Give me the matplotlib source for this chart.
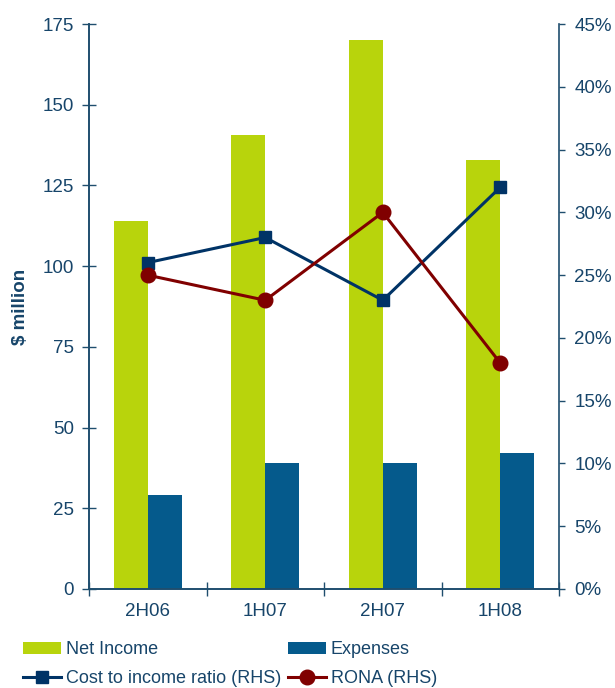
import numpy as np
import matplotlib.pyplot as plt
from matplotlib.ticker import FuncFormatter, FixedLocator

plt.rcParams['font.family'] = ['Liberation Sans', 'DejaVu Sans']

periods = ['2H06', '1H07', '2H07', '1H08']
net_income = [114, 140.5, 170, 133]
expenses = [29, 39, 39, 42]
cost_income = [26, 28, 23, 32]   # % (RHS)
rona = [25, 23, 30, 18]          # % (RHS)

green = '#B8D40C'
blue = '#055A8C'
navy = '#003366'
maroon = '#800000'
txt = '#17456A'
axc = '#1F4E6E'

fig = plt.figure(figsize=(6.15, 6.88), dpi=100)
ax = fig.add_axes([0.1447, 0.1439, 0.7643, 0.8211])
ax2 = ax.twinx()

x = np.arange(len(periods))
w = 0.29
b1 = ax.bar(x - w/2, net_income, w, color=green, label='Net Income', zorder=2)
b2 = ax.bar(x + w/2, expenses, w, color=blue, label='Expenses', zorder=2)

l1, = ax2.plot(x, cost_income, color=navy, lw=2.2, marker='s', ms=8.5,
               label='Cost to income ratio (RHS)')
l2, = ax2.plot(x, rona, color=maroon, lw=2.2, marker='o', ms=10.5,
               label='RONA (RHS)')

ax.set_xlim(-0.5, 3.5)
ax.set_ylim(0, 175)
ax.set_yticks(np.arange(0, 176, 25))
ax2.set_ylim(0, 45)
ax2.set_yticks(np.arange(0, 46, 5))
ax2.yaxis.set_major_formatter(FuncFormatter(lambda v, p: f'{v:.0f}%'))

ax.set_xticks(x)
ax.set_xticklabels(periods)
ax.xaxis.set_minor_locator(FixedLocator(np.arange(-0.5, 3.6, 1)))
ax.tick_params(axis='x', which='major', length=0, pad=10, labelsize=13.5, labelcolor=txt)
ax.tick_params(axis='x', which='minor', direction='inout', length=9.4, width=1, color=axc)
ax.tick_params(axis='y', direction='inout', length=9.4, width=1, color=axc,
               pad=6, labelsize=13.5, labelcolor=txt)
ax2.tick_params(axis='y', direction='out', length=4, width=1, color=axc,
                pad=7, labelsize=13.5, labelcolor=txt)

for a in (ax, ax2):
    a.spines['top'].set_visible(False)
    for s in ('left', 'right', 'bottom'):
        a.spines[s].set_color(axc)
        a.spines[s].set_linewidth(1.2)
ax.spines['right'].set_visible(False)

ax.set_ylabel('$ million', fontsize=13.5, fontweight='bold', color=txt, labelpad=10)

# legend laid out in two rows: bars on top, lines below
handles = [b1, l1, b2, l2]
fig.legend(handles, [h.get_label() for h in handles], ncol=2,
           loc='upper left', bbox_to_anchor=(0.038, 0.068), frameon=False,
           fontsize=13, labelcolor=txt, handlelength=2.1, handletextpad=0.25,
           columnspacing=0.4, borderpad=0, borderaxespad=0, labelspacing=0.68)

fig.savefig('out.png', dpi=100)
